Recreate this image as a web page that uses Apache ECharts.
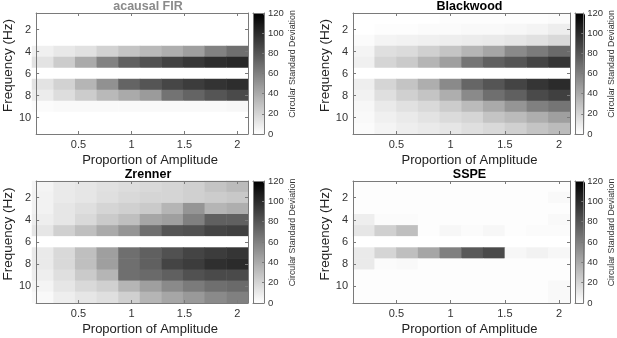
<!DOCTYPE html>
<html><head><meta charset="utf-8">
<script src="https://cdn.jsdelivr.net/npm/echarts@6/dist/echarts.min.js"></script>
<style>html,body{margin:0;padding:0;background:#fff}#c{width:617px;height:338px}</style>
</head><body><div id="c"></div>
<script>
const amplitudes = ['0.2','0.4','0.6','0.8','1.0','1.2','1.4','1.6','1.8','2.0'];
const frequencies = [1,2,3,4,5,6,7,8,9,10,11];
const xTickValues = [0.5, 1, 1.5, 2];
const yTickValues = [2, 4, 6, 8, 10];
const csdMin = 0, csdMax = 120, csdStep = 20;
const panelTitles = ['acausal FIR', 'Blackwood', 'Zrenner', 'SSPE'];

// rows = frequency 1..11, columns = amplitude 0.2..2.0
const firValues = [
  [0,0,0,0,0,0,0,0,0,0],
  [0,0,0,0,0,0,0,0,0,0],
  [0,0,0,0,0,0,0,0,0,0],
  [7,11,14,21,28,33,38,45,59,68],
  [13,24,40,59,75,82,89,94,99,101],
  [0,0,0,0,0,0,0,0,0,0],
  [13,21,35,52,73,80,87,92,96,99],
  [9,16,24,33,40,47,66,73,80,85],
  [2,3,3,3,3,3,3,3,3,4],
  [0,0,0,0,0,0,0,0,0,0],
  [0,0,0,0,0,0,0,0,0,0]
];
const blackwoodValues = [
  [0,0,0,0,1,1,1,1,1,2],
  [0,1,1,2,2,3,3,4,5,8],
  [2,5,6,7,8,9,10,12,14,18],
  [5,15,17,22,28,35,42,55,62,70],
  [7,20,25,35,45,65,75,80,88,95],
  [0,0,0,0,0,0,0,0,0,0],
  [8,20,28,38,55,72,80,88,95,100],
  [6,15,22,28,38,55,68,75,85,90],
  [4,10,14,18,24,32,40,50,60,65],
  [3,7,10,13,17,20,28,32,38,45],
  [2,5,8,10,12,15,18,22,28,32]
];
const zrennerValues = [
  [5,10,12,14,16,18,20,22,28,32],
  [6,10,12,15,18,20,20,22,24,26],
  [6,12,15,20,22,25,35,50,35,38],
  [8,12,18,25,30,42,45,60,75,75],
  [12,22,30,40,50,68,80,82,88,90],
  [0,0,0,0,0,0,0,0,0,0],
  [10,18,30,45,68,75,82,88,92,95],
  [10,18,30,45,68,75,88,92,98,100],
  [8,15,25,35,68,70,75,82,85,85],
  [5,12,18,22,35,45,55,62,68,70],
  [3,8,12,15,22,35,42,48,55,60]
];
const sspeValues = [
  [1,1,1,1,1,1,1,1,1,1],
  [1,1,1,1,1,1,1,1,1,3],
  [1,1,1,1,1,1,1,1,1,1],
  [8,2,2,1,1,1,1,1,1,3],
  [12,22,30,1,4,2,4,1,2,2],
  [0,0,0,0,0,0,0,0,0,0],
  [10,20,30,42,60,78,85,4,6,4],
  [10,2,3,1,1,1,1,1,1,1],
  [1,1,1,1,1,1,1,1,1,1],
  [1,1,1,1,1,1,1,1,1,3],
  [1,1,1,1,1,1,1,1,1,3]
];
const allValues = [firValues, blackwoodValues, zrennerValues, sspeValues];

const panels = [
  {x:32, y:13, w:216, h:121, cbx:253, cbw:11, titleColor:'#8a8a8a'},
  {x:353, y:13, w:217, h:121, cbx:575, cbw:10, titleColor:'#000'},
  {x:32, y:181, w:216, h:122, cbx:253, cbw:11, titleColor:'#000'},
  {x:353, y:181, w:217, h:122, cbx:575, cbw:10, titleColor:'#000'}
];

const FONT = 'Liberation Sans';
const axisColor = '#7a7a7a';
const textColor = '#333';
const grid = [], xAxis = [], yAxis = [], series = [], visualMap = [], title = [];

panels.forEach((p, i) => {
  grid[i] = {left:p.x, top:p.y, width:p.w, height:p.h, containLabel:false};
  grid[4+i] = {left:p.x, top:p.y, width:p.w, height:p.h, containLabel:false};
  grid[8+i] = {left:p.cbx, top:p.y, width:p.cbw, height:p.h, containLabel:false};
});

panels.forEach((p, i) => {
  xAxis[i] = {type:'category', gridIndex:i, data:amplitudes, show:false};
  yAxis[i] = {type:'category', gridIndex:i, data:frequencies, show:false, inverse:true};
});
const lineStyle = {color:axisColor, width:1};
panels.forEach((p, i) => {
  xAxis[4+i] = {type:'value', gridIndex:4+i, position:'bottom', min:0.1, max:2.1, z:5,
    axisLine:{show:true, onZero:false, lineStyle},
    axisTick:{show:true, inside:true, length:3, customValues:xTickValues, lineStyle},
    axisLabel:{show:true, customValues:xTickValues, color:textColor, fontFamily:FONT, fontSize:11, margin:5},
    splitLine:{show:false},
    name:'Proportion of Amplitude', nameLocation:'middle', nameGap:20,
    nameTextStyle:{color:'#222', fontFamily:FONT, fontSize:13, padding:[0,0,0,16]}};
  yAxis[4+i] = {type:'value', gridIndex:4+i, position:'left', min:0.5, max:11.5, inverse:true, z:5,
    axisLine:{show:true, onZero:false, lineStyle},
    axisTick:{show:true, inside:true, length:3, customValues:yTickValues, lineStyle},
    axisLabel:{show:true, customValues:yTickValues, color:textColor, fontFamily:FONT, fontSize:11, margin:5},
    splitLine:{show:false},
    name:'Frequency (Hz)', nameLocation:'middle', nameGap:16,
    nameTextStyle:{color:'#222', fontFamily:FONT, fontSize:13.5, padding:[0,0,0,16]}};
});
panels.forEach((p, i) => {
  xAxis[8+i] = {type:'value', gridIndex:4+i, position:'top', min:0.1, max:2.1, z:5,
    axisLine:{show:true, onZero:false, lineStyle},
    axisTick:{show:true, inside:true, length:3, customValues:xTickValues, lineStyle},
    axisLabel:{show:false}, splitLine:{show:false}};
  yAxis[8+i] = {type:'value', gridIndex:4+i, position:'right', min:0.5, max:11.5, inverse:true, z:5,
    axisLine:{show:true, onZero:false, lineStyle},
    axisTick:{show:true, inside:true, length:3, customValues:yTickValues, lineStyle},
    axisLabel:{show:false}, splitLine:{show:false}};
});
panels.forEach((p, i) => {
  xAxis[12+i] = {type:'value', gridIndex:8+i, position:'bottom', min:0, max:1, z:10,
    axisLine:{show:true, onZero:false, lineStyle}, axisTick:{show:false}, axisLabel:{show:false}, splitLine:{show:false}};
  xAxis[16+i] = {type:'value', gridIndex:8+i, position:'top', min:0, max:1, z:10,
    axisLine:{show:true, onZero:false, lineStyle}, axisTick:{show:false}, axisLabel:{show:false}, splitLine:{show:false}};
  yAxis[12+i] = {type:'value', gridIndex:8+i, position:'right', min:csdMin, max:csdMax, interval:csdStep, z:10,
    axisLine:{show:true, onZero:false, lineStyle},
    axisTick:{show:true, inside:true, length:2, lineStyle},
    axisLabel:{show:true, color:textColor, fontFamily:FONT, fontSize:9.5, margin:4},
    splitLine:{show:false},
    name:'Circular Standard Deviation', nameLocation:'middle', nameGap:20, nameRotate:90,
    nameTextStyle:{color:textColor, fontFamily:FONT, fontSize:8.8, padding:[0,0,0,19]}};
  yAxis[16+i] = {type:'value', gridIndex:8+i, position:'left', min:csdMin, max:csdMax, z:10,
    axisLine:{show:true, onZero:false, lineStyle}, axisTick:{show:false}, axisLabel:{show:false}, splitLine:{show:false}};
});

panels.forEach((p, i) => {
  const data = [];
  allValues[i].forEach((row, r) => row.forEach((v, c) => data.push([c, r, v])));
  series.push({type:'heatmap', xAxisIndex:i, yAxisIndex:i, data, itemStyle:{borderWidth:0}, progressive:0, animation:false});
  visualMap.push({type:'continuous', seriesIndex:i, min:csdMin, max:csdMax, calculable:false,
    left:p.cbx, top:p.y, itemWidth:p.cbw, itemHeight:p.h, padding:0, text:null, showLabel:false,
    inRange:{color:['#ffffff','#000000']}, textStyle:{color:'transparent'}});
  title.push({text:panelTitles[i], left:p.x + p.w/2 + 8, top:p.y - 13, textAlign:'center', padding:0,
    textStyle:{color:p.titleColor, fontFamily:FONT, fontWeight:'bold', fontSize:12.5}});
});

const chart = echarts.init(document.getElementById('c'));
chart.setOption({animation:false, backgroundColor:'#fff', title, grid, xAxis, yAxis, visualMap, series});
</script></body></html>
